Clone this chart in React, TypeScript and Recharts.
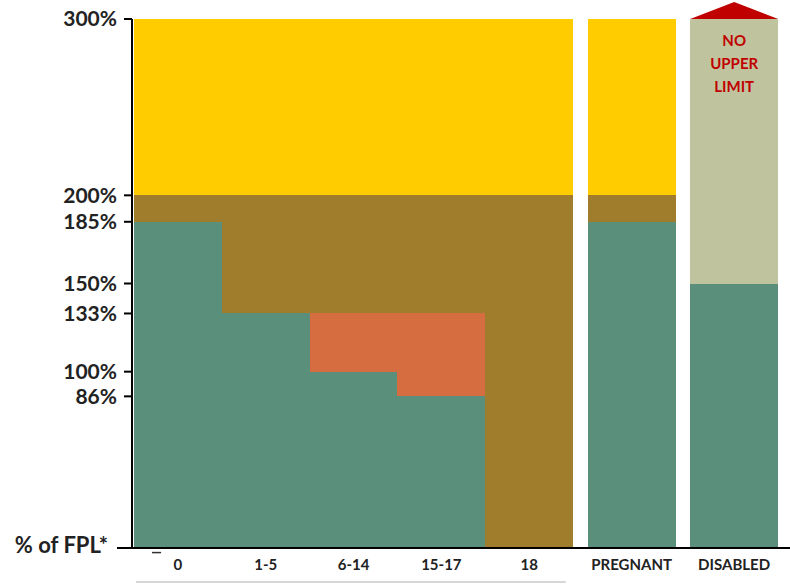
import React from 'react';
import { BarChart, Bar, XAxis, YAxis, ReferenceLine, LabelList } from 'recharts';

// ---- data ----
const categories = ['0', '1-5', '6-14', '15-17', '18', 'PREGNANT', 'DISABLED'];
const medicaidBand = [185, 133, 100, 86, 0, 185, 150]; // green segment
const chipMedicaidBand = [0, 0, 33, 47, 0, 0, 0]; // orange segment
const chipBand = [15, 67, 67, 67, 200, 15, 0]; // brown segment
const upperBand = [100, 100, 100, 100, 100, 100, 0]; // yellow segment
const noLimitBand = [0, 0, 0, 0, 0, 0, 150]; // olive segment
const yTickValues = [0, 86, 100, 133, 150, 185, 200, 300];
const yTickLabels = ['% of FPL*', '86%', '100%', '133%', '150%', '185%', '200%', '300%'];
const noLimitText = ['NO', 'UPPER', 'LIMIT'];

// ---- layout (slot centres on a 44-unit axis: bars 6 units wide, gaps 1 unit) ----
const SLOT_CENTERS = [3, 9, 15, 21, 27, 34, 41];
const X_DOMAIN: [number, number] = [0, 44];

const COLORS = {
  green: '#5A8F7B',
  orange: '#D66D40',
  brown: '#A07D2D',
  yellow: '#FFCC00',
  olive: '#C0C49E',
  red: '#C00000',
  text: '#222222',
};
const FONT = 'Lato, "Open Sans", sans-serif';

const tableData = categories.map((name, i) => ({
  pos: SLOT_CENTERS[i],
  name,
  green: medicaidBand[i],
  orange: chipMedicaidBand[i],
  brown: chipBand[i],
  yellow: upperBand[i],
  olive: noLimitBand[i],
}));

const YTick = (props: any) => {
  const { x, y, payload } = props;
  const idx = yTickValues.indexOf(payload.value);
  const label = yTickLabels[idx];
  if (payload.value === 0) {
    return (
      <g>
        <text x={x - 9} y={y - 3} dy="0.35em" textAnchor="end" fontFamily={FONT} fontWeight={700} fontSize={22} fill={COLORS.text}>
          {label}
        </text>
        <line x1={x} x2={x + 15} y1={y} y2={y} stroke="#000" strokeWidth={2} />
      </g>
    );
  }
  return (
    <text x={x} y={y} dy="0.35em" textAnchor="end" fontFamily={FONT} fontWeight={700} fontSize={21} fill={COLORS.text}>
      {label}
    </text>
  );
};

const NoLimitLabel = (props: any) => {
  const { x, y, width, value } = props;
  if (!value) return null;
  const cx = x + width / 2;
  return (
    <g>
      <polygon points={`${x},${y} ${cx},${y - 17} ${x + width},${y}`} fill={COLORS.red} />
      {noLimitText.map((t, i) => (
        <text
          key={t}
          x={cx}
          y={y + 21 + i * 23}
          textAnchor="middle"
          dominantBaseline="central"
          fontFamily={FONT}
          fontWeight={700}
          fontSize={15}
          fill={COLORS.red}
        >
          {t}
        </text>
      ))}
    </g>
  );
};

const CrispRect = (props: any) => {
  const { x, y, width, height, fill } = props;
  if (!height || !width) return null;
  return <rect x={x} y={y} width={width} height={height} fill={fill} shapeRendering="crispEdges" />;
};

export default function App() {
  return (
    <div style={{ width: 790, height: 584 }}>
      <style>{'body{margin:0}'}</style>
      <BarChart
        width={790}
        height={584}
        data={tableData}
        margin={{ top: 19, right: 0, bottom: 0, left: 0 }}
        barCategoryGap={0}
        barGap={0}
      >
        <XAxis
          dataKey="pos"
          type="number"
          domain={X_DOMAIN}
          ticks={SLOT_CENTERS}
          interval={0}
          tickFormatter={(v: number) => categories[SLOT_CENTERS.indexOf(v)] ?? ''}
          padding={{ left: 2, right: 12 }}
          height={36}
          tickSize={0}
          tickMargin={11}
          tickLine={false}
          axisLine={{ stroke: '#000', strokeWidth: 2 }}
          tick={{ fontFamily: FONT, fontWeight: 700, fontSize: 15, fill: COLORS.text }}
        />
        <YAxis
          type="number"
          domain={[0, 300]}
          ticks={yTickValues}
          interval={0}
          width={132}
          tickSize={8}
          tickMargin={7}
          tickLine={{ stroke: '#000', strokeWidth: 2 }}
          axisLine={{ stroke: '#000', strokeWidth: 2 }}
          tick={<YTick />}
        />
        <Bar dataKey="green" stackId="a" fill={COLORS.green} shape={<CrispRect />} isAnimationActive={false} />
        <Bar dataKey="orange" stackId="a" fill={COLORS.orange} shape={<CrispRect />} isAnimationActive={false} />
        <Bar dataKey="brown" stackId="a" fill={COLORS.brown} shape={<CrispRect />} isAnimationActive={false} />
        <Bar dataKey="yellow" stackId="a" fill={COLORS.yellow} shape={<CrispRect />} isAnimationActive={false} />
        <Bar dataKey="olive" stackId="a" fill={COLORS.olive} shape={<CrispRect />} isAnimationActive={false}>
          <LabelList dataKey="olive" content={<NoLimitLabel />} />
        </Bar>
        <ReferenceLine
          segment={[
            { x: SLOT_CENTERS[0] - 2.86, y: -19.3 },
            { x: SLOT_CENTERS[4] + 2.5, y: -19.3 },
          ]}
          ifOverflow="visible"
          stroke="#C8C8C8"
          strokeWidth={1.5}
        />
        <ReferenceLine
          segment={[
            { x: SLOT_CENTERS[0] - 1.77, y: -2.6 },
            { x: SLOT_CENTERS[0] - 1.15, y: -2.6 },
          ]}
          ifOverflow="visible"
          stroke="#333"
          strokeWidth={1.5}
        />
      </BarChart>
    </div>
  );
}
